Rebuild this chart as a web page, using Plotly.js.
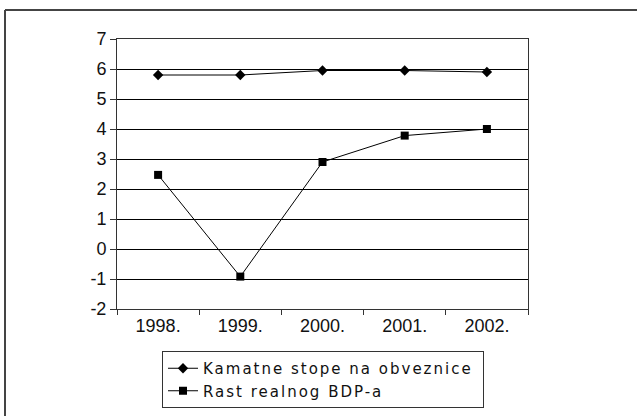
<!DOCTYPE html>
<html>
<head>
<meta charset="utf-8">
<script src="https://cdn.plot.ly/plotly-3.0.1.min.js"></script>
<style>
html,body{margin:0;padding:0;background:#fff;}
#chart{width:637px;height:416px;}
#chart .legendtext{letter-spacing:2px;}
</style>
</head>
<body>
<div id="chart"></div>
<script>
var years = ["1998.", "1999.", "2000.", "2001.", "2002."];
var kamatneStope = [5.8, 5.8, 5.95, 5.95, 5.9];
var rastBDP = [2.47, -0.92, 2.9, 3.78, 4.0];
var seriesNames = ["Kamatne stope na obveznice", "Rast realnog BDP-a"];
var yTicks = [-2, -1, 0, 1, 2, 3, 4, 5, 6, 7];
var yTickText = ["-2", "-1", "0", "1", "2", "3", "4", "5", "6", "7"];

var L = 117, R = 528, T = 39, B = 309, W = 637, H = 416;
function px(x) { return (x - L) / (R - L); }
function py(y) { return (B - y) / (B - T); }

var traces = [
  {x: years, y: kamatneStope, name: seriesNames[0], type: "scatter", mode: "lines+markers",
   line: {color: "#000", width: 1}, marker: {symbol: "diamond", size: 8, color: "#000"}},
  {x: years, y: rastBDP, name: seriesNames[1], type: "scatter", mode: "lines+markers",
   line: {color: "#000", width: 1}, marker: {symbol: "square", size: 8, color: "#000"}}
];

var layout = {
  width: W, height: H,
  margin: {l: L, r: W - R, t: T, b: H - B, pad: 0, autoexpand: false},
  paper_bgcolor: "#fff", plot_bgcolor: "#fff",
  font: {family: "Liberation Sans, Arial, sans-serif", size: 18, color: "#111"},
  showlegend: true,
  xaxis: {type: "category", range: [-0.5, 4.5], tickson: "boundaries", ticks: "outside", ticklen: 5, tickcolor: "#333",
          showgrid: false, showline: true, linecolor: "#333", linewidth: 1, mirror: true,
          tickfont: {size: 18}, zeroline: false, fixedrange: true, automargin: false},
  yaxis: {range: [-2, 7], tickvals: yTicks, ticktext: yTickText, ticks: "outside", ticklen: 6, tickcolor: "#333",
          showgrid: true, gridcolor: "#000", gridwidth: 1, zeroline: false,
          showline: true, linecolor: "#333", linewidth: 1, mirror: true,
          tickfont: {size: 18}, fixedrange: true, automargin: false},
  legend: {x: px(162), y: py(351), xanchor: "left", yanchor: "top", orientation: "h",
           entrywidth: 275, entrywidthmode: "pixels",
           bordercolor: "#333", borderwidth: 1, bgcolor: "#fff",
           font: {family: "DejaVu Sans, sans-serif", size: 15, color: "#111"}, tracegroupgap: 0, itemwidth: 30},
  shapes: [
    {type: "line", xref: "paper", yref: "paper", x0: px(5), x1: px(645), y0: py(10), y1: py(10),
     line: {color: "#444", width: 2}},
    {type: "line", xref: "paper", yref: "paper", x0: px(5), x1: px(5), y0: py(10), y1: py(425),
     line: {color: "#444", width: 2}}
  ]
};

Plotly.newPlot("chart", traces, layout, {displayModeBar: false, staticPlot: true});
</script>
</body>
</html>
